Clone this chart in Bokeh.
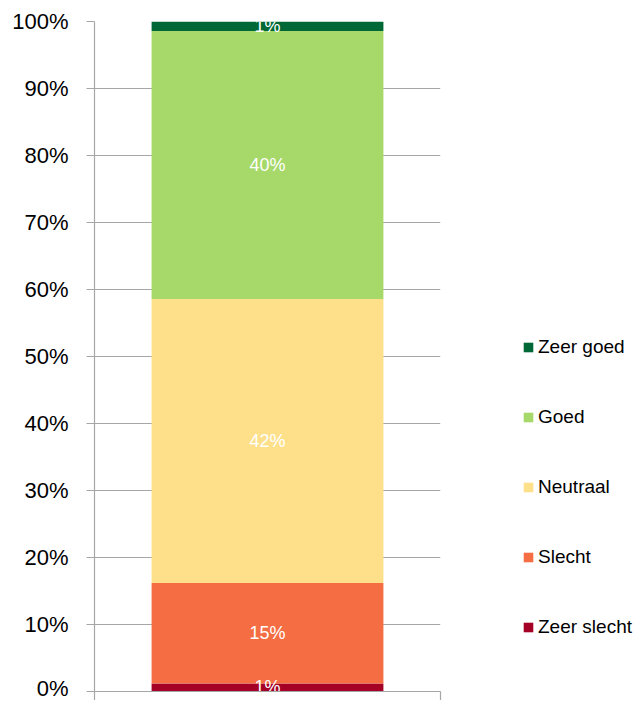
from bokeh.plotting import figure
from bokeh.models import Range1d, ColumnDataSource, Legend, LegendItem, FixedTicker, CustomJSTickFormatter
from bokeh.core.properties import value
from bokeh.embed import file_html
from bokeh.resources import INLINE

# Data (percent shares, bottom to top)
categories = ["Zeer slecht", "Slecht", "Neutraal", "Goed", "Zeer goed"]
shares = [1.2, 15.0, 42.4, 40.0, 1.4]
colors = ["#a50026", "#f46d43", "#fee08b", "#a6d96a", "#006837"]
y_ticks = [0, 10, 20, 30, 40, 50, 60, 70, 80, 90, 100]

FONT = "Liberation Sans"
GRID = "#a6a6a6"

p = figure(frame_width=346, frame_height=670, output_backend="svg", toolbar_location=None,
           x_range=Range1d(0, 1), y_range=Range1d(0, 100),
           min_border_left=94, min_border_right=0, min_border_top=21, min_border_bottom=0)
p.outline_line_color = None
p.xgrid.visible = False
p.ygrid.grid_line_color = GRID
p.ygrid.grid_line_width = 1.2
p.ygrid.ticker = FixedTicker(ticks=y_ticks)

# y axis
p.yaxis.ticker = FixedTicker(ticks=y_ticks)
p.yaxis.formatter = CustomJSTickFormatter(code="return tick.toFixed(0) + '%';")
p.yaxis.axis_line_color = GRID
p.yaxis.axis_line_width = 1.2
p.yaxis.major_tick_line_color = GRID
p.yaxis.major_tick_line_width = 1.2
p.yaxis.major_tick_out = 8
p.yaxis.major_tick_in = 0
p.yaxis.minor_tick_line_color = None
p.yaxis.major_label_standoff = 18
p.yaxis.major_label_text_font = FONT
p.yaxis.major_label_text_font_size = "22px"
p.yaxis.major_label_text_color = "#000000"

# x axis (only the baseline with category boundary ticks)
p.xaxis.ticker = FixedTicker(ticks=[0, 1])
p.xaxis.major_label_overrides = {0: "", 1: ""}
p.xaxis.axis_line_color = GRID
p.xaxis.axis_line_width = 1.2
p.xaxis.major_tick_line_color = GRID
p.xaxis.major_tick_line_width = 1.2
p.xaxis.major_tick_out = 9
p.xaxis.major_tick_in = 0
p.xaxis.minor_tick_line_color = None
p.xaxis.major_label_standoff = 0

# stacked bar
data = {"x": [0.5]}
for c, s in zip(categories, shares):
    data[c] = [s]
src = ColumnDataSource(data)
renderers = p.vbar_stack(categories, x="x", width=0.67, source=src, color=colors, line_color=None)

# data labels at segment centres
centers = []
labels = []
cum = 0.0
for s in shares:
    centers.append(cum + s / 2.0)
    labels.append(f"{round(s):.0f}%")
    cum += s
p.text(x=[0.5] * len(centers), y=centers, text=labels, text_color="white",
       text_font=value(FONT), text_font_size="18px", text_align="center", text_baseline="middle")

# legend (top to bottom: Zeer goed ... Zeer slecht)
items = [LegendItem(label=c, renderers=[r]) for c, r in zip(categories, renderers)][::-1]
legend = Legend(items=items, location=(82, 53), border_line_color=None, background_fill_alpha=0,
                glyph_width=12, glyph_height=12, label_height=20, spacing=48, padding=0, margin=0,
                label_standoff=4, label_text_font=FONT, label_text_font_size="19px",
                label_text_color="#000000")
p.add_layout(legend, "right")

open("out.html", "w").write(file_html(p, INLINE))
